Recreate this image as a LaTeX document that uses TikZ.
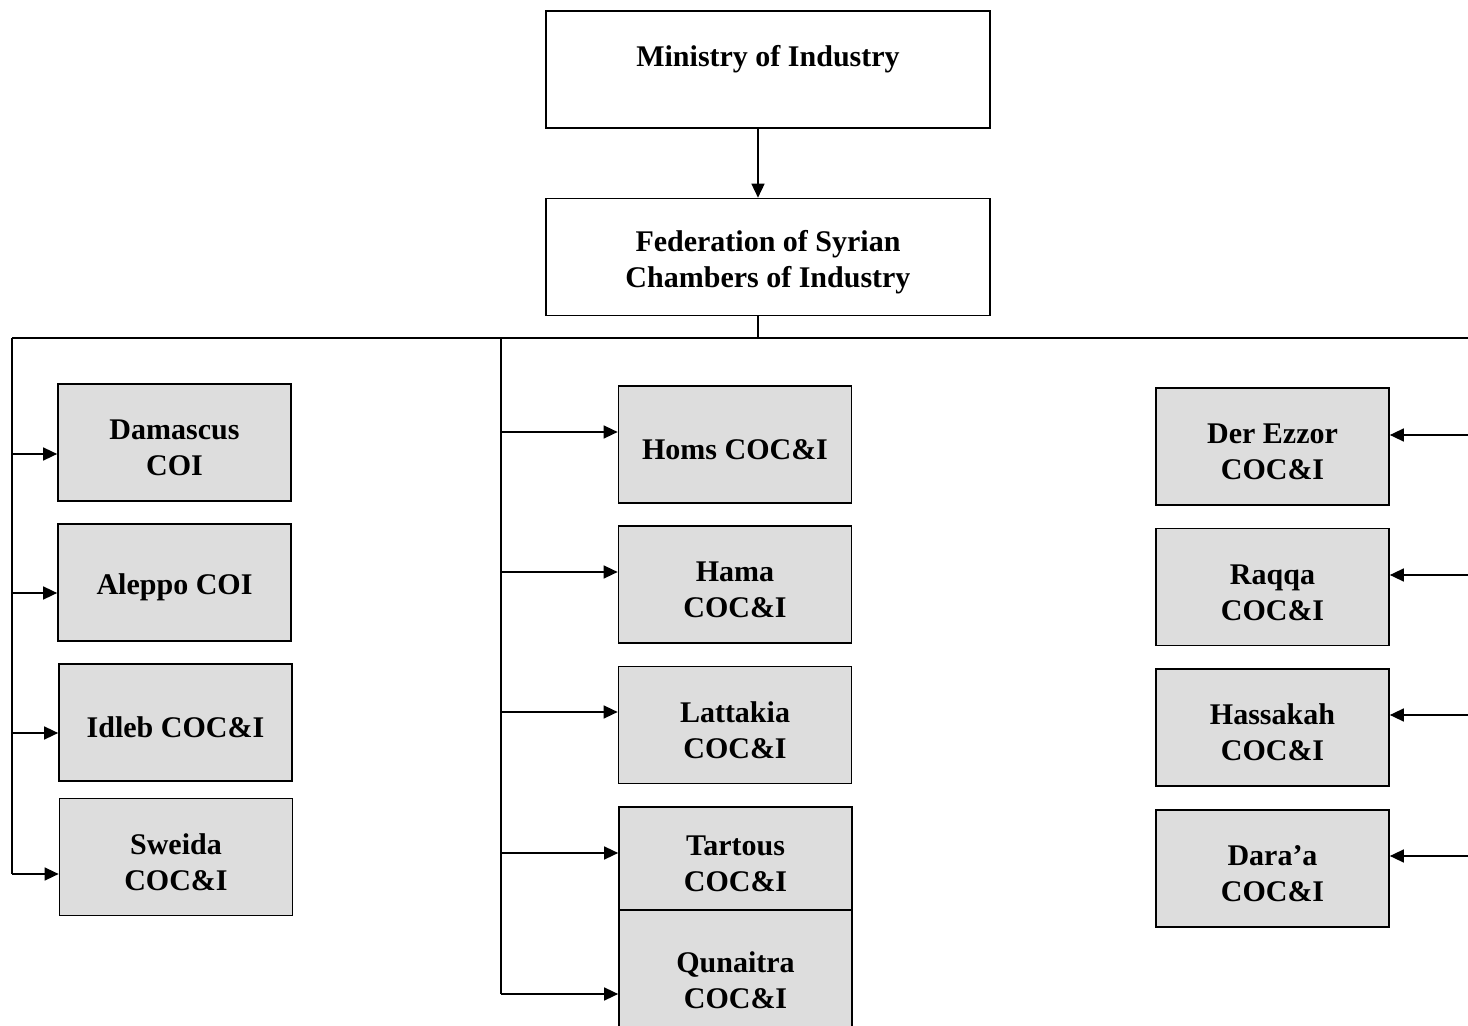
\documentclass[tikz,border=0pt]{standalone}
\usepackage{fontspec}
\setmainfont{Liberation Serif}
\usetikzlibrary{arrows.meta}
\newcommand{\topstrut}{\rule{0pt}{15.5pt}}
\begin{document}
\begin{tikzpicture}[x=0.5pt,y=-0.5pt,
  every node/.style={font=\fontsize{15}{18}\selectfont\bfseries, align=center},
  plainbox/.style={draw, line width=0.8pt, fill=white, minimum width=222pt, minimum height=58.5pt, inner sep=0pt},
  cocbox/.style={draw, line width=0.85pt, fill=gray!27, minimum width=116.5pt, minimum height=58.5pt, inner sep=0pt},
  link/.style={line width=0.75pt},
  arr/.style={link, -{Triangle[length=7pt,width=6.5pt]}}]
\clip (0,0) rectangle (1468,1026);
\fill[white] (0,0) rectangle (1468,1026);

% top boxes
\node[plainbox, text height=0pt, text depth=2.5pt] (min) at (768,69.5) {Ministry of Industry};
\node[plainbox] (fed) at (768,257) {\topstrut Federation of Syrian\\Chambers of Industry};
\draw[arr] (min.south -| 758,0) -- (fed.north -| 758,0);

% bus
\coordinate (top) at (758,338);
\coordinate (busL) at (12,338);
\coordinate (busM) at (501,338);
\coordinate (busR) at (1468,338);
\draw[link] (fed.south -| top) -- (top);
\draw[link] (busL) -- (busR);

% left column
\node[cocbox] (dam) at (174.5,442.5) {\topstrut Damascus\\COI};
\node[cocbox] (ale) at (174.5,582.5) {\topstrut Aleppo COI};
\node[cocbox] (idl) at (175.5,722.5) {\topstrut Idleb COC\&I};
\node[cocbox] (swe) at (176,857) {\topstrut Sweida\\COC\&I};

\coordinate (L1) at (12,454);
\coordinate (L2) at (12,593);
\coordinate (L3) at (12,733);
\coordinate (L4) at (12,874);
\draw[link] (busL) -- (L4);
\draw[arr] (L1) -- (L1 -| dam.west);
\draw[arr] (L2) -- (L2 -| ale.west);
\draw[arr] (L3) -- (L3 -| idl.west);
\draw[arr] (L4) -- (L4 -| swe.west);

% middle column
\node[cocbox] (hom) at (735,444.5) {\topstrut Homs COC\&I};
\node[cocbox] (ham) at (735,584.5) {\topstrut Hama\\COC\&I};
\node[cocbox] (lat) at (735,725) {\topstrut Lattakia\\COC\&I};
\node[cocbox, minimum height=51.5pt] (tar) at (735.5,858.5) {\topstrut Tartous\\COC\&I};
\node[cocbox, minimum height=65pt] (qun) at (735.5,975) {\topstrut Qunaitra\\COC\&I};

\coordinate (M1) at (501,432);
\coordinate (M2) at (501,572);
\coordinate (M3) at (501,712);
\coordinate (M4) at (501,853);
\coordinate (M5) at (501,994);
\draw[link] (busM) -- (M5);
\draw[arr] (M1) -- (M1 -| hom.west);
\draw[arr] (M2) -- (M2 -| ham.west);
\draw[arr] (M3) -- (M3 -| lat.west);
\draw[arr] (M4) -- (M4 -| tar.west);
\draw[arr] (M5) -- (M5 -| qun.west);

% right column
\node[cocbox] (der) at (1272.5,446.5) {\topstrut Der Ezzor\\COC\&I};
\node[cocbox] (raq) at (1272.5,587) {\topstrut Raqqa\\COC\&I};
\node[cocbox] (has) at (1272.5,727.5) {\topstrut Hassakah\\COC\&I};
\node[cocbox] (dar) at (1272.5,868.5) {\topstrut Dara'a\\COC\&I};

\coordinate (R1) at (1468,435);
\coordinate (R2) at (1468,575);
\coordinate (R3) at (1468,715);
\coordinate (R4) at (1468,856);
\draw[arr] (R1) -- (R1 -| der.east);
\draw[arr] (R2) -- (R2 -| raq.east);
\draw[arr] (R3) -- (R3 -| has.east);
\draw[arr] (R4) -- (R4 -| dar.east);
\end{tikzpicture}
\end{document}
